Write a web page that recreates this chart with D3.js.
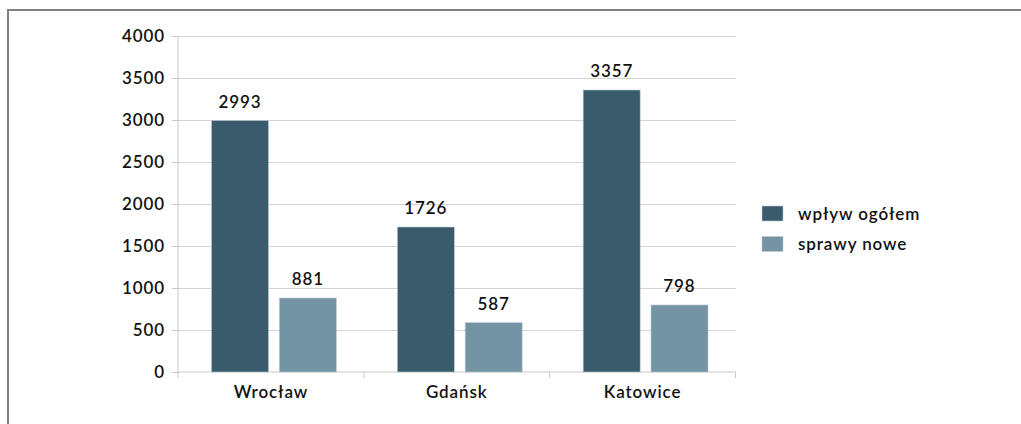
<!DOCTYPE html>
<html><head><meta charset="utf-8">
<script src="https://cdn.jsdelivr.net/npm/d3@7"></script>
<style>
html,body{margin:0;padding:0;background:#fff;}
svg{display:block;font-family:Lato, "Noto Sans", sans-serif;}
text{font-weight:600;letter-spacing:0.9px;}
</style></head>
<body>
<svg id="c" width="1021" height="424"></svg>
<script>
const categories = ["Wrocław", "Gdańsk", "Katowice"];
const seriesNames = ["wpływ ogółem", "sprawy nowe"];
const wplywOgolem = [2993, 1726, 3357];
const sprawyNowe = [881, 587, 798];
const yTicks = [0, 500, 1000, 1500, 2000, 2500, 3000, 3500, 4000];
const colors = ["#3a5b6b", "#7494a4"];

(function () {
const svg = d3.select("#c");
const FS = 17;
// frame
svg.append("rect").attr("x", 8).attr("y", 10).attr("width", 1100).attr("height", 500)
  .attr("fill", "none").attr("stroke", "#808080").attr("stroke-width", 2);

const pLeft = 178, pRight = 735.5, pTop = 36, pBottom = 372;
const x0 = d3.scaleBand().domain(categories).range([pLeft, pRight]).padding(0);
const bw = x0.bandwidth();
const x1 = d3.scaleBand().domain(seriesNames).range([33.5, bw - 27.5]).paddingInner(0.16).paddingOuter(0);
const y = d3.scaleLinear().domain([0, 4000]).range([pBottom, pTop]);

// gridlines
svg.append("g").selectAll("line").data(yTicks.filter(t => t > 0)).join("line")
  .attr("x1", pLeft).attr("x2", pRight).attr("y1", d => y(d)).attr("y2", d => y(d))
  .attr("stroke", "#d4d4d4").attr("stroke-width", 1).attr("shape-rendering", "crispEdges");

// y axis
const yAxis = svg.append("g").attr("transform", `translate(${pLeft},0)`)
  .call(d3.axisLeft(y).tickValues(yTicks).tickFormat(d3.format("d")).tickSize(6).tickPadding(7));
yAxis.select(".domain").attr("stroke", "#c8c8c8").attr("d", `M0,${pTop}V${pBottom}`);
yAxis.selectAll(".tick line").attr("stroke", "#c8c8c8");
yAxis.selectAll(".tick text").attr("font-size", FS).attr("fill", "#111").attr("font-family", "Lato");

// x axis
const xAxis = svg.append("g").attr("transform", `translate(0,${pBottom})`)
  .call(d3.axisBottom(x0).tickSize(0).tickPadding(14));
xAxis.select(".domain").attr("stroke", "#c8c8c8").attr("d", `M${pLeft},0H${pRight}`);
xAxis.selectAll(".tick text").attr("font-size", FS).attr("fill", "#111").attr("font-family", "Lato");
const bounds = categories.map(c => x0(c)).concat([x0(categories[categories.length - 1]) + bw]);
xAxis.append("g").selectAll("line").data(bounds).join("line")
  .attr("x1", d => d).attr("x2", d => d).attr("y1", 0).attr("y2", 6)
  .attr("stroke", "#c8c8c8");

// bars
const data = categories.map((c, i) => ({ c, vals: [wplywOgolem[i], sprawyNowe[i]] }));
const groups = svg.append("g").selectAll("g").data(data).join("g")
  .attr("transform", d => `translate(${x0(d.c)},0)`);
groups.selectAll("rect").data(d => d.vals.map((v, j) => ({ s: seriesNames[j], v, j })))
  .join("rect")
  .attr("x", d => x1(d.s)).attr("width", x1.bandwidth())
  .attr("y", d => y(d.v)).attr("height", d => pBottom - y(d.v))
  .attr("fill", d => colors[d.j]).attr("stroke", "#b9c9d1").attr("stroke-width", 0.6);
groups.selectAll("text").data(d => d.vals.map((v, j) => ({ s: seriesNames[j], v, j })))
  .join("text")
  .attr("x", d => x1(d.s) + x1.bandwidth() / 2).attr("y", d => y(d.v) - 13)
  .attr("text-anchor", "middle").attr("font-size", FS).attr("fill", "#111")
  .text(d => d.v);

// legend
const leg = svg.append("g").selectAll("g").data(seriesNames).join("g")
  .attr("transform", (d, i) => `translate(762,${206 + i * 30.5})`);
leg.append("rect").attr("width", 21).attr("height", 15).attr("fill", (d, i) => colors[i])
  .attr("stroke", "#b9c9d1").attr("stroke-width", 0.6);
leg.append("text").attr("x", 36).attr("y", 13.5).attr("font-size", FS).attr("fill", "#111")
  .text(d => d);
})();
</script>
</body></html>
